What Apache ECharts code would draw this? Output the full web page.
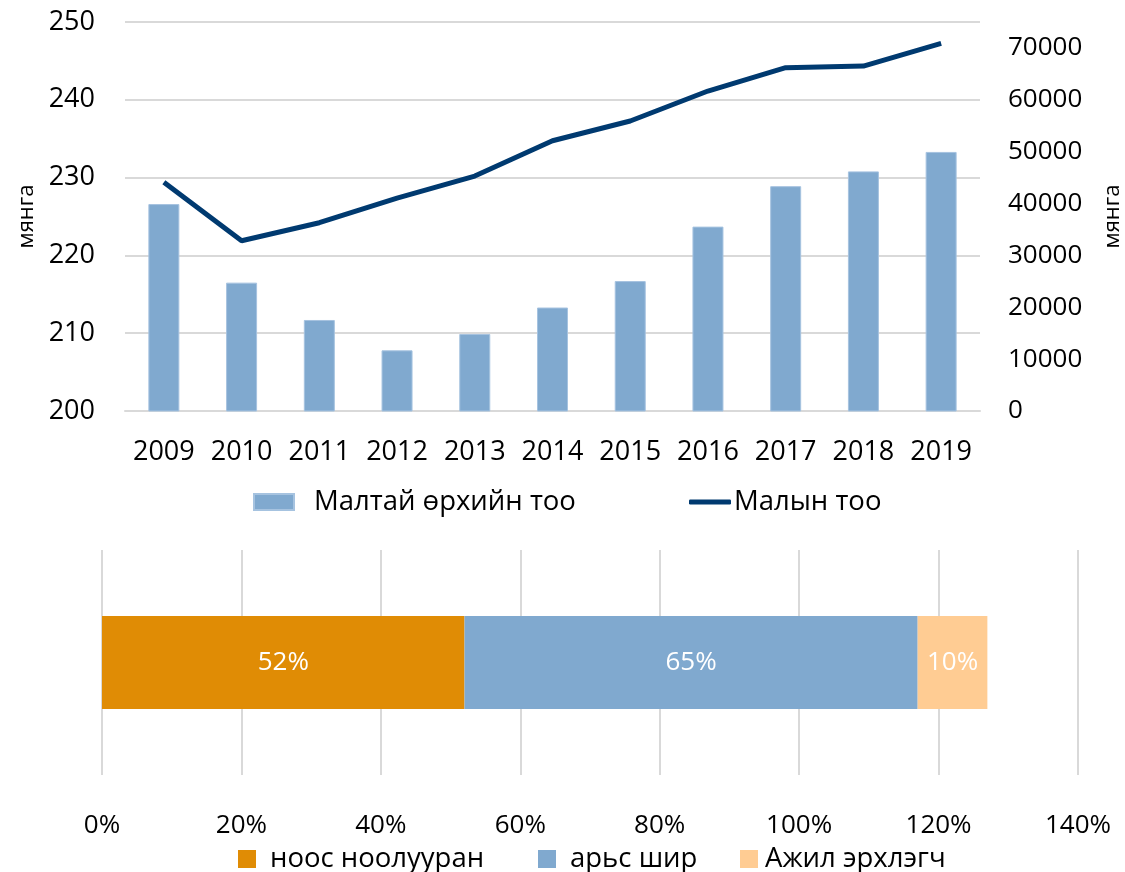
<!DOCTYPE html>
<html>
<head>
<meta charset="utf-8">
<script src="https://cdn.jsdelivr.net/npm/echarts@6/dist/echarts.min.js"></script>
<style>
  html, body { margin: 0; padding: 0; background: #fff; }
  #chart { width: 1125px; height: 872px; }
</style>
</head>
<body>
<div id="chart"></div>
<script>
// top chart data
const years = ['2009', '2010', '2011', '2012', '2013', '2014', '2015', '2016', '2017', '2018', '2019']
const households = [226.6, 216.5, 211.7, 207.8, 209.9, 213.3, 216.7, 223.7, 228.9, 230.8, 233.3]
const livestock = [44090, 32830, 36300, 41060, 45300, 52110, 55910, 61690, 66190, 66510, 70890]

// bottom chart data
const shareNames = ['ноос ноолууран', 'арьс шир', 'Ажил эрхлэгч']
const shareValues = [0.52, 0.65, 0.10]
const shareColors = ['#E08C05', '#80A9CF', '#FFCC93']

const font = 'Open Sans'
const chart = echarts.init(document.getElementById('chart'))

const shareSeries = shareNames.map((name, i) => ({
  name: name,
  type: 'bar',
  stack: 'share',
  xAxisIndex: 1,
  yAxisIndex: 2,
  barWidth: 93,
  data: [shareValues[i]],
  itemStyle: { color: shareColors[i] },
  label: {
    show: true,
    position: 'inside',
    color: '#fff',
    fontFamily: font,
    fontSize: 26,
    formatter: (p) => Math.round(p.value * 100) + '%'
  }
}))

// bottom legend: one per item so each sits where it does in the original
const shareLegendLeft = [238, 538, 740]
const shareLegendPad = [9, 9, 2]
const shareLegends = shareNames.map((name, i) => ({
  data: [name],
  left: shareLegendLeft[i],
  top: 845,
  padding: 0,
  icon: 'rect',
  itemWidth: 18,
  itemHeight: 18,
  textStyle: { fontSize: 27.5, color: '#000', padding: [0, 0, 0, shareLegendPad[i]] }
}))

const option = {
  animation: false,
  textStyle: { fontFamily: font },
  grid: [
    { left: 125, right: 145, top: 22, height: 389, outerBoundsMode: 'none' },
    { left: 102, right: 47, top: 550, height: 225, outerBoundsMode: 'none' }
  ],
  legend: [
    {
      data: ['Малтай өрхийн тоо'],
      left: 253,
      top: 488,
      padding: 0,
      icon: 'rect',
      itemWidth: 40,
      itemHeight: 16,
      textStyle: { fontSize: 27.5, color: '#000', padding: [0, 0, 0, 15] }
    },
    {
      data: ['Малын тоо'],
      left: 689,
      top: 488,
      padding: 0,
      icon: 'roundRect',
      itemWidth: 42,
      itemHeight: 5,
      itemStyle: { color: '#003A70' },
      textStyle: { fontSize: 27.5, color: '#000', padding: [0, 0, 0, -2] }
    },
    ...shareLegends
  ],
  xAxis: [
    {
      type: 'category',
      gridIndex: 0,
      data: years,
      axisLine: { lineStyle: { color: '#D9D9D9', width: 2 } },
      axisTick: { show: false },
      axisLabel: { color: '#000', fontSize: 27, margin: 28, interval: 0 }
    },
    {
      type: 'value',
      gridIndex: 1,
      min: 0,
      max: 1.4,
      interval: 0.2,
      axisLine: { show: false },
      axisTick: { show: false },
      splitLine: { lineStyle: { color: '#D9D9D9', width: 2 } },
      axisLabel: {
        color: '#000',
        fontSize: 26,
        margin: 38,
        formatter: (v) => Math.round(v * 100) + '%'
      }
    }
  ],
  yAxis: [
    {
      type: 'value',
      gridIndex: 0,
      min: 200,
      max: 250,
      interval: 10,
      name: 'мянга',
      nameLocation: 'middle',
      nameRotate: 90,
      nameGap: 86,
      nameTextStyle: { fontSize: 22, color: '#000' },
      axisLine: { show: false },
      axisTick: { show: false },
      splitLine: { lineStyle: { color: '#D9D9D9', width: 2 } },
      axisLabel: { color: '#000', fontSize: 27, margin: 30 }
    },
    {
      type: 'value',
      gridIndex: 0,
      min: 0,
      max: 75000,
      interval: 10000,
      name: 'мянга',
      nameLocation: 'middle',
      nameRotate: 90,
      nameGap: 122,
      nameTextStyle: { fontSize: 22, color: '#000' },
      axisLine: { show: false },
      axisTick: { show: false },
      splitLine: { show: false },
      axisLabel: {
        color: '#000',
        fontSize: 26,
        margin: 28,
        showMaxLabel: false,
        formatter: (v) => String(v)
      }
    },
    {
      type: 'category',
      gridIndex: 1,
      data: [''],
      show: false
    }
  ],
  series: [
    {
      name: 'Малтай өрхийн тоо',
      type: 'bar',
      xAxisIndex: 0,
      yAxisIndex: 0,
      barWidth: 31,
      data: households,
      itemStyle: { color: '#80A9CF', borderColor: '#A6C3E0', borderWidth: 1 }
    },
    {
      name: 'Малын тоо',
      type: 'line',
      xAxisIndex: 0,
      yAxisIndex: 1,
      data: livestock,
      symbol: 'none',
      lineStyle: { color: '#003A70', width: 5 },
      itemStyle: { color: '#003A70' }
    },
    ...shareSeries
  ]
}

chart.setOption(option)
</script>
</body>
</html>
